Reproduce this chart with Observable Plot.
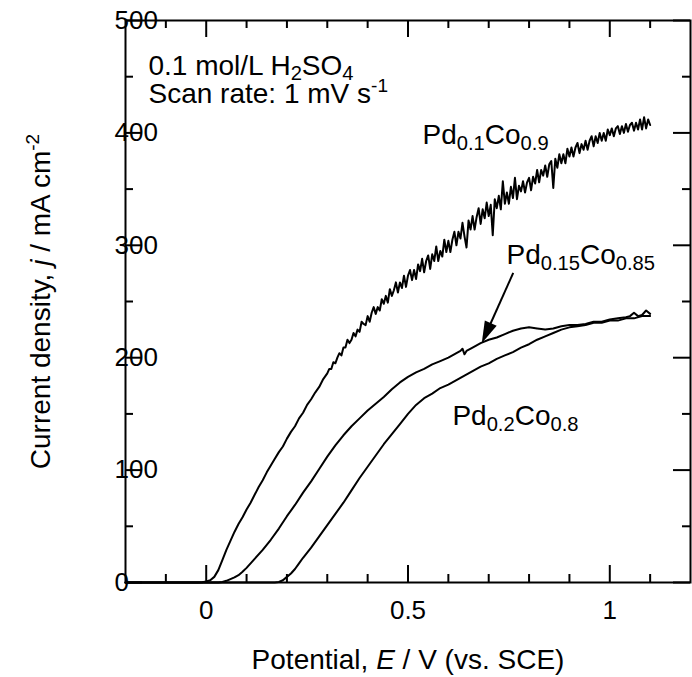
<!DOCTYPE html>
<html><head><meta charset="utf-8">
<script src="https://cdn.jsdelivr.net/npm/d3@7"></script>
<script src="https://cdn.jsdelivr.net/npm/@observablehq/plot@0.6"></script>
<style>body{margin:0;background:#fff} svg text{white-space:pre}</style>
</head><body><div id="chart"></div>
<script>
// ---------- data (E / V vs. SCE, j / mA cm^-2) ----------
const pd10Co90 = [[-0.2,0],[-0.1,0],[-0.02,0],[-0.01,0.3],[0,1],[0.01,2],[0.02,5],[0.03,11],[0.04,20],[0.05,29],[0.06,37],[0.07,45],[0.08,52],[0.09,58],[0.10,65],[0.11,71],[0.12,78],[0.13,85],[0.14,91],[0.15,98],[0.16,104],[0.17,110],[0.18,116],[0.19,121],[0.20,128],[0.21,134],[0.22,139],[0.23,146],[0.24,151],[0.25,158],[0.26,163],[0.27,169],[0.28,174],[0.29,181],[0.30,186],
[0.305,190],[0.31,190],[0.315,196],[0.32,195],[0.325,200],[0.33,204],[0.335,202],[0.34,209],[0.345,209],[0.35,216],[0.355,213],[0.36,216],[0.365,222],[0.37,219],[0.375,225],[0.38,223],[0.385,232],[0.39,230],[0.395,229],[0.40,237],[0.405,232],[0.41,240],[0.415,245],[0.42,239],[0.425,245],[0.43,242],[0.435,252],[0.44,248],[0.445,255],[0.45,249],[0.455,261],[0.46,255],[0.465,260],[0.47,267],[0.475,258],[0.48,267],[0.485,262],[0.49,273],[0.495,263],[0.50,273],[0.505,278],[0.51,269],[0.515,278],[0.52,270],[0.525,283],[0.53,277],[0.535,288],[0.54,276],[0.545,286],[0.55,291],[0.555,279],[0.56,292],[0.565,286],[0.57,299],[0.575,286],[0.58,295],[0.585,290],[0.59,305],[0.595,294],[0.60,304],[0.605,294],[0.61,305],[0.615,312],[0.62,300],[0.625,312],[0.63,306],[0.635,320],[0.64,308],[0.645,298],[0.65,322],[0.655,314],[0.66,326],[0.665,314],[0.67,325],[0.675,333],[0.68,319],[0.685,332],[0.69,324],[0.695,338],[0.70,326],[0.705,336],[0.71,309],[0.715,341],[0.72,333],[0.725,344],[0.73,332],[0.735,357],[0.74,337],[0.745,347],[0.75,337],[0.755,352],[0.76,342],[0.765,360],[0.77,341],[0.775,353],[0.78,348],[0.785,357],[0.79,347],[0.795,356],[0.80,360],[0.805,349],[0.81,361],[0.815,355],[0.82,367],[0.825,356],[0.83,367],[0.835,362],[0.84,371],[0.845,361],[0.85,372],[0.855,375],[0.86,351],[0.865,377],[0.87,369],[0.875,381],[0.88,373],[0.885,381],[0.89,373],[0.895,386],[0.90,379],[0.905,387],[0.91,379],[0.915,387],[0.92,391],[0.925,382],[0.93,390],[0.935,385],[0.94,393],[0.945,385],[0.95,393],[0.955,397],[0.96,388],[0.965,397],[0.97,391],[0.975,400],[0.98,393],[0.985,400],[0.99,393],[0.995,403],[1.00,398],[1.005,404],[1.01,397],[1.015,404],[1.02,406],[1.025,399],[1.03,406],[1.035,400],[1.04,408],[1.045,401],[1.05,407],[1.055,409],[1.06,402],[1.065,409],[1.07,403],[1.075,412],[1.08,403],[1.085,414],[1.09,404],[1.095,412],[1.10,407]];

const pd15Co85 = [[-0.2,0],[0,0],[0.03,0],[0.04,0.5],[0.05,1.5],[0.06,3],[0.07,4.5],[0.08,6.5],[0.09,9.5],[0.10,13],[0.12,21],[0.14,29],[0.16,38],[0.18,48],[0.20,59],[0.22,69],[0.24,80],[0.26,90],[0.28,101],[0.30,112],[0.32,122],[0.34,131],[0.36,139],[0.38,146],[0.40,153],[0.42,159],[0.44,165],[0.46,172],[0.48,178],[0.50,183],[0.52,187],[0.54,190],[0.56,194],[0.58,197],[0.60,200],[0.62,204],[0.63,206],[0.635,208],[0.64,203],[0.645,206],[0.66,209],[0.68,213],[0.70,216],[0.72,218],[0.74,221],[0.76,224],[0.78,226],[0.80,227],[0.82,226],[0.84,225],[0.86,226],[0.88,228],[0.90,229],[0.92,229],[0.94,230],[0.96,232],[0.98,232],[1.00,234],[1.02,235],[1.04,236],[1.05,237],[1.06,240],[1.07,237],[1.08,238],[1.09,242],[1.10,239]];

const pd20Co80 = [[-0.2,0],[0.15,0],[0.17,0],[0.18,0.5],[0.19,2],[0.20,5],[0.21,8],[0.22,12],[0.23,17],[0.24,22],[0.26,31],[0.28,41],[0.30,51],[0.32,61],[0.34,71],[0.36,82],[0.38,93],[0.40,103],[0.42,113],[0.44,123],[0.46,132],[0.48,141],[0.50,150],[0.52,158],[0.54,164],[0.56,168],[0.58,173],[0.60,176],[0.62,180],[0.64,184],[0.66,188],[0.68,192],[0.70,195],[0.72,199],[0.74,202],[0.76,205],[0.78,209],[0.80,212],[0.82,216],[0.84,219],[0.86,222],[0.88,225],[0.90,227],[0.92,228],[0.94,229],[0.96,231],[0.98,231],[1.00,233],[1.02,233],[1.04,235],[1.06,235],[1.08,237],[1.10,237]];

const xTicksMajor = [0, 0.5, 1];
const xTicksMinor = [-0.1, 0.1, 0.2, 0.3, 0.4, 0.6, 0.7, 0.8, 0.9, 1.1];
const yTicksMajor = [0, 100, 200, 300, 400, 500];
const yTicksMinor = [50, 150, 250, 350, 450];

const xLabel = "Potential, *E* / V (vs. SCE)";
const yLabel = "Current density, *j* / mA cm^{-2}";
const conditions = ["0.1 mol/L H_{2}SO_{4}", "Scan rate: 1 mV s^{-1}"];
const seriesNames = ["Pd_{0.1}Co_{0.9}", "Pd_{0.15}Co_{0.85}", "Pd_{0.2}Co_{0.8}"];

// ---------- layout ----------
const W = 692, H = 677, mT = 20, mB = 95, mL = 125, mR = 2;
const plotW = W - mL - mR, plotH = H - mT - mB;
const majorLen = 17, minorLen = 8;
const labelAt = [[0.536, 390], [0.744, 283], [0.610, 140]];
const arrowFrom = [0.762, 275], arrowTo = [0.684, 212.4];
const condDx = 23, condDy = [54, 82];

const line = (data) => Plot.line(data, {x: d => d[0], y: d => d[1], stroke: "black", strokeWidth: 2, strokeLinejoin: "round"});

const chart = Plot.plot({
  width: W, height: H,
  marginTop: mT, marginBottom: mB, marginLeft: mL, marginRight: mR,
  style: {fontFamily: "Liberation Sans, Arial, sans-serif", background: "white", color: "black", overflow: "visible"},
  x: {domain: [-0.2, 1.2], label: null},
  y: {domain: [0, 500], label: null},
  marks: [
    // inward ticks on all four sides
    Plot.tickX(xTicksMajor, {x: d => d, insetTop: plotH - majorLen, stroke: "black", strokeWidth: 2}),
    Plot.tickX(xTicksMinor, {x: d => d, insetTop: plotH - minorLen, stroke: "black", strokeWidth: 2}),
    Plot.tickX(xTicksMajor, {x: d => d, insetBottom: plotH - majorLen, stroke: "black", strokeWidth: 2}),
    Plot.tickX(xTicksMinor, {x: d => d, insetBottom: plotH - minorLen, stroke: "black", strokeWidth: 2}),
    Plot.tickY(yTicksMajor, {y: d => d, insetRight: plotW - majorLen, stroke: "black", strokeWidth: 2}),
    Plot.tickY(yTicksMinor, {y: d => d, insetRight: plotW - minorLen, stroke: "black", strokeWidth: 2}),
    Plot.tickY(yTicksMajor, {y: d => d, insetLeft: plotW - majorLen, stroke: "black", strokeWidth: 2}),
    Plot.tickY(yTicksMinor, {y: d => d, insetLeft: plotW - minorLen, stroke: "black", strokeWidth: 2}),
    Plot.axisX({ticks: xTicksMajor, tickSize: 0, tickPadding: 18, fontSize: 26, label: null, tickFormat: d => String(d)}),
    Plot.axisY({ticks: yTicksMajor, tickSize: 0, tickPadding: 0, textAnchor: "start", dx: -11, fontSize: 26, label: null, tickFormat: d => String(d)}),
    line(pd20Co80),
    line(pd15Co85),
    line(pd10Co90),
    Plot.frame({stroke: "black", strokeWidth: 2}),
    Plot.text(seriesNames, {x: (d, i) => labelAt[i][0], y: (d, i) => labelAt[i][1], text: d => d, textAnchor: "start", lineAnchor: "bottom", fontSize: 28}),
    Plot.text([conditions[0]], {frameAnchor: "top-left", dx: condDx, dy: condDy[0], text: d => d, textAnchor: "start", lineAnchor: "bottom", fontSize: 28}),
    Plot.text([conditions[1]], {frameAnchor: "top-left", dx: condDx, dy: condDy[1], text: d => d, textAnchor: "start", lineAnchor: "bottom", fontSize: 28}),
    Plot.text([xLabel], {frameAnchor: "bottom", dy: 86, text: d => d, lineAnchor: "bottom", fontSize: 28}),
    Plot.text([yLabel], {frameAnchor: "left", dx: -76, rotate: -90, text: d => d, textAnchor: "middle", lineAnchor: "bottom", fontSize: 28})
  ]
});
document.getElementById("chart").appendChild(chart);

// rich text: _{sub}, ^{sup}, *italic*
d3.select(chart).selectAll("text").each(function() {
  const s = this.textContent;
  if (!/(_\{|\^\{|\*)/.test(s)) return;
  const fs = parseFloat(getComputedStyle(this).fontSize) || 28;
  const el = d3.select(this);
  el.text(null);
  const re = /_\{([^}]*)\}|\^\{([^}]*)\}|\*([^*]*)\*|([^_^*]+)/g;
  let m, offset = 0;
  while ((m = re.exec(s))) {
    let txt, shift = 0, size = null, italic = false;
    if (m[1] !== undefined) { txt = m[1]; shift = fs * 0.2; size = fs * 0.72; }
    else if (m[2] !== undefined) { txt = m[2]; shift = -fs * 0.36; size = fs * 0.68; }
    else if (m[3] !== undefined) { txt = m[3]; italic = true; }
    else txt = m[4];
    const ts = el.append("tspan").text(txt);
    if (shift - offset !== 0) ts.attr("dy", shift - offset);
    offset = shift;
    if (size) ts.attr("font-size", size);
    if (italic) ts.attr("font-style", "italic");
  }
});

// arrow with a filled head
(function() {
  const sx = chart.scale("x"), sy = chart.scale("y");
  const fx = sx.apply ? v => sx.apply(v) : d3.scaleLinear(sx.domain, sx.range);
  const fy = sy.apply ? v => sy.apply(v) : d3.scaleLinear(sy.domain, sy.range);
  const x1 = fx(arrowFrom[0]), y1 = fy(arrowFrom[1]);
  const x2 = fx(arrowTo[0]), y2 = fy(arrowTo[1]);
  const len = Math.hypot(x2 - x1, y2 - y1), ux = (x2 - x1) / len, uy = (y2 - y1) / len;
  const hl = 22, hw = 6.5;
  const bx = x2 - ux * hl, by = y2 - uy * hl;
  const g = d3.select(chart).append("g");
  g.append("line").attr("x1", x1).attr("y1", y1).attr("x2", bx + ux * 2).attr("y2", by + uy * 2)
    .attr("stroke", "black").attr("stroke-width", 2);
  g.append("path").attr("d", `M${x2},${y2}L${bx - uy * hw},${by + ux * hw}L${bx + uy * hw},${by - ux * hw}Z`).attr("fill", "black");
})();
</script>
</body></html>
